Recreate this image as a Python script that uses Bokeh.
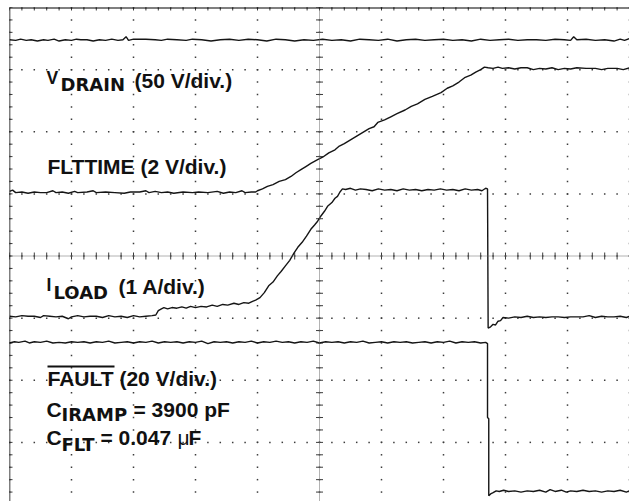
import numpy as np
from bokeh.plotting import figure
from bokeh.models import Range1d, Span, Label
from bokeh.embed import file_html
from bokeh.resources import INLINE

# ---------------- data (time in divisions, amplitude in divisions) ----------------
vdrain = [
    (0.00, 7.48), (0.10, 7.47), (0.18, 7.49), (0.27, 7.47), (0.35, 7.48), (0.45, 7.46), (0.55, 7.48),
    (0.62, 7.47), (0.72, 7.49), (0.80, 7.46), (0.90, 7.48), (1.00, 7.47), (1.08, 7.49), (1.15, 7.48),
    (1.25, 7.48), (1.35, 7.46), (1.45, 7.48), (1.55, 7.47), (1.65, 7.49), (1.75, 7.47), (1.83, 7.48),
    (1.88, 7.53), (1.92, 7.47), (2.00, 7.49), (2.20, 7.49), (2.35, 7.48), (2.45, 7.47), (2.55, 7.49),
    (2.70, 7.48), (2.85, 7.47), (2.95, 7.49), (3.10, 7.48), (3.25, 7.46), (3.40, 7.48), (3.55, 7.49),
    (3.70, 7.47), (3.85, 7.49), (4.00, 7.48), (4.15, 7.46), (4.30, 7.49), (4.45, 7.48), (4.60, 7.46),
    (4.75, 7.48), (4.90, 7.47), (5.05, 7.49), (5.20, 7.47), (5.35, 7.48), (5.50, 7.46), (5.65, 7.49),
    (5.80, 7.48), (5.95, 7.47), (6.10, 7.49), (6.25, 7.46), (6.40, 7.48), (6.55, 7.49), (6.70, 7.47),
    (6.85, 7.48), (7.00, 7.49), (7.15, 7.47), (7.30, 7.48), (7.45, 7.46), (7.60, 7.49), (7.75, 7.47),
    (7.90, 7.48), (8.05, 7.49), (8.20, 7.47), (8.35, 7.48), (8.50, 7.48), (8.65, 7.47), (8.80, 7.49),
    (8.95, 7.48), (9.05, 7.47), (9.10, 7.53), (9.15, 7.48), (9.30, 7.49), (9.45, 7.47), (9.60, 7.48),
    (9.75, 7.46), (9.85, 7.49), (9.92, 7.47), (10.00, 7.50),
]

flttime = [
    (0.00, 5.04), (0.05, 5.06), (0.10, 5.02), (0.20, 5.03), (0.30, 5.01), (0.40, 5.03), (0.50, 5.02),
    (0.60, 5.02), (0.70, 5.05), (0.75, 5.02), (0.85, 5.03), (0.95, 5.01), (1.05, 5.04), (1.10, 5.02),
    (1.25, 5.03), (1.35, 5.05), (1.40, 5.02), (1.55, 5.03), (1.70, 5.02), (1.85, 5.01), (1.95, 5.03),
    (2.10, 5.03), (2.20, 5.05), (2.25, 5.02), (2.35, 5.04), (2.45, 5.02), (2.55, 5.03), (2.65, 5.01),
    (2.80, 5.03), (2.95, 5.02), (3.05, 5.03), (3.20, 5.02), (3.35, 5.04), (3.45, 5.01), (3.55, 5.03),
    (3.65, 5.02), (3.75, 5.05), (3.80, 5.02), (3.90, 5.03), (3.97, 5.03), (4.00, 5.05), (4.08, 5.08),
    (4.16, 5.12), (4.25, 5.15), (4.35, 5.20), (4.45, 5.23), (4.54, 5.28), (4.62, 5.34), (4.70, 5.39),
    (4.78, 5.44), (4.86, 5.49), (4.97, 5.55), (5.05, 5.59), (5.15, 5.66), (5.25, 5.71), (5.32, 5.77),
    (5.40, 5.81), (5.50, 5.87), (5.60, 5.93), (5.70, 5.99), (5.80, 6.05), (5.88, 6.08), (5.94, 6.15),
    (6.05, 6.19), (6.15, 6.24), (6.25, 6.29), (6.38, 6.35), (6.48, 6.41), (6.58, 6.45), (6.70, 6.52),
    (6.82, 6.57), (6.96, 6.63), (7.06, 6.70), (7.15, 6.74), (7.25, 6.80), (7.34, 6.87), (7.44, 6.91),
    (7.52, 6.96), (7.60, 7.00), (7.66, 7.04), (7.72, 7.03), (7.80, 7.02), (7.88, 7.04), (7.95, 7.02),
    (8.05, 7.03), (8.15, 7.01), (8.25, 7.03), (8.35, 7.03), (8.45, 7.00), (8.55, 7.02), (8.65, 7.01),
    (8.75, 7.03), (8.85, 7.00), (8.95, 7.02), (9.05, 7.01), (9.15, 7.03), (9.30, 7.02), (9.45, 7.02),
    (9.55, 7.00), (9.65, 7.02), (9.80, 7.02), (9.90, 7.00), (10.00, 7.03),
]

iload = [
    (0.00, 3.03), (0.10, 3.02), (0.20, 3.04), (0.30, 3.03), (0.40, 3.03), (0.50, 3.01), (0.55, 3.04),
    (0.65, 3.03), (0.75, 3.02), (0.85, 3.03), (0.95, 2.99), (1.00, 3.02), (1.10, 3.04), (1.20, 3.02),
    (1.30, 3.03), (1.40, 3.03), (1.50, 3.01), (1.60, 3.04), (1.70, 3.02), (1.80, 3.03), (1.90, 3.01),
    (2.00, 3.04), (2.10, 3.02), (2.20, 3.03), (2.30, 3.04), (2.36, 3.05), (2.40, 3.12), (2.45, 3.15),
    (2.49, 3.17), (2.55, 3.15), (2.62, 3.17), (2.70, 3.16), (2.78, 3.18), (2.85, 3.16), (2.92, 3.19),
    (3.00, 3.17), (3.09, 3.19), (3.18, 3.18), (3.27, 3.21), (3.35, 3.19), (3.44, 3.22), (3.52, 3.21),
    (3.62, 3.24), (3.70, 3.22), (3.78, 3.25), (3.86, 3.24), (3.92, 3.27), (3.97, 3.29), (4.04, 3.33),
    (4.11, 3.41), (4.18, 3.52), (4.25, 3.58), (4.32, 3.68), (4.38, 3.75), (4.45, 3.84), (4.52, 3.93),
    (4.59, 4.05), (4.65, 4.14), (4.72, 4.22), (4.79, 4.32), (4.86, 4.43), (4.92, 4.50), (4.97, 4.56),
    (5.02, 4.64), (5.08, 4.72), (5.13, 4.80), (5.20, 4.86), (5.25, 4.93), (5.29, 4.96), (5.33, 5.03),
    (5.37, 5.08), (5.42, 5.07), (5.50, 5.09), (5.58, 5.06), (5.66, 5.08), (5.75, 5.07), (5.85, 5.05),
    (5.95, 5.08), (6.05, 5.06), (6.15, 5.07), (6.25, 5.05), (6.35, 5.08), (6.45, 5.06), (6.55, 5.07),
    (6.65, 5.05), (6.75, 5.07), (6.85, 5.06), (6.95, 5.08), (7.05, 5.06), (7.15, 5.07), (7.25, 5.05),
    (7.35, 5.08), (7.45, 5.06), (7.55, 5.07), (7.62, 5.05), (7.68, 5.09), (7.71, 5.08), (7.72, 2.84),
    (7.76, 2.86), (7.80, 2.90), (7.84, 2.89), (7.88, 2.95), (7.92, 2.96), (7.96, 3.01), (8.05, 3.00),
    (8.15, 3.02), (8.25, 3.01), (8.35, 3.03), (8.45, 3.01), (8.55, 3.02), (8.65, 3.01), (8.75, 3.02),
    (8.85, 3.02), (8.95, 3.01), (9.05, 3.02), (9.15, 3.02), (9.25, 3.02), (9.35, 3.04), (9.45, 3.01),
    (9.55, 3.03), (9.65, 3.02), (9.75, 3.02), (9.85, 3.03), (9.95, 3.01), (10.00, 3.03),
]

fault = [
    (0.00, 2.60), (0.08, 2.62), (0.15, 2.61), (0.25, 2.63), (0.32, 2.60), (0.40, 2.62), (0.50, 2.61),
    (0.60, 2.63), (0.70, 2.60), (0.80, 2.61), (0.90, 2.60), (1.00, 2.62), (1.10, 2.61), (1.20, 2.62),
    (1.30, 2.60), (1.40, 2.62), (1.50, 2.61), (1.60, 2.63), (1.70, 2.60), (1.80, 2.61), (1.90, 2.62),
    (2.00, 2.60), (2.10, 2.62), (2.20, 2.61), (2.30, 2.63), (2.40, 2.60), (2.50, 2.62), (2.60, 2.61),
    (2.70, 2.62), (2.80, 2.60), (2.90, 2.62), (3.00, 2.61), (3.10, 2.63), (3.20, 2.59), (3.30, 2.62),
    (3.40, 2.61), (3.50, 2.62), (3.60, 2.60), (3.70, 2.62), (3.80, 2.61), (3.90, 2.63), (4.00, 2.60),
    (4.10, 2.62), (4.20, 2.61), (4.30, 2.63), (4.40, 2.61), (4.50, 2.62), (4.60, 2.60), (4.70, 2.62),
    (4.80, 2.61), (4.90, 2.63), (5.00, 2.60), (5.10, 2.62), (5.20, 2.61), (5.30, 2.62), (5.40, 2.60),
    (5.50, 2.62), (5.60, 2.61), (5.70, 2.63), (5.80, 2.60), (5.90, 2.61), (6.00, 2.62), (6.10, 2.60),
    (6.20, 2.62), (6.30, 2.61), (6.40, 2.62), (6.50, 2.60), (6.60, 2.61), (6.70, 2.62), (6.80, 2.60),
    (6.90, 2.62), (7.00, 2.61), (7.10, 2.63), (7.20, 2.60), (7.30, 2.62), (7.40, 2.61), (7.50, 2.62),
    (7.60, 2.60), (7.68, 2.61), (7.71, 2.59), (7.71, 1.40), (7.73, 1.38), (7.73, 0.14), (7.76, 0.17),
    (7.80, 0.19), (7.85, 0.22), (7.90, 0.21), (7.97, 0.23), (8.05, 0.21), (8.15, 0.22), (8.25, 0.20),
    (8.35, 0.22), (8.45, 0.21), (8.55, 0.23), (8.65, 0.20), (8.72, 0.24), (8.80, 0.21), (8.90, 0.23),
    (8.98, 0.20), (9.05, 0.22), (9.15, 0.21), (9.25, 0.23), (9.35, 0.21), (9.45, 0.22), (9.55, 0.20),
    (9.65, 0.22), (9.75, 0.21), (9.85, 0.23), (9.95, 0.20), (10.00, 0.22),
]

x_divisions = list(range(0, 11))
y_divisions = list(range(0, 9))
MINOR_PER_DIV = 5

# ---------------- figure ----------------
W, H = 629, 501
LEFT, TOP = 9, 7
FRAME_W, FRAME_H = W - LEFT, H - TOP
PX_PER_XDIV = FRAME_W / 10.0
PX_PER_YDIV = 62.125
y_bottom = 8 - FRAME_H / PX_PER_YDIV

p = figure(width=W, height=H, output_backend="svg", toolbar_location=None,
           x_range=Range1d(0, 10), y_range=Range1d(y_bottom, 8),
           x_axis_location=None, y_axis_location=None,
           min_border=0, min_border_left=LEFT, min_border_top=TOP,
           background_fill_color="white", border_fill_color="white")
p.outline_line_color = None
for g in p.grid:
    g.visible = False

GRID_COL = "#3c3c3c"

# dotted graticule: one dot per minor division along every major line
xm = np.arange(0, 10.001, 1.0 / MINOR_PER_DIV)
ym = np.arange(0, 8.001, 1.0 / MINOR_PER_DIV)
gx, gy = [], []
for yd in y_divisions:
    gx.extend(xm); gy.extend([yd] * len(xm))
for xd in x_divisions:
    gx.extend([xd] * len(ym)); gy.extend(ym)
p.rect(x=gx, y=gy, width=1.5, height=1.5, width_units="screen", height_units="screen",
       fill_color=GRID_COL, line_color=None)

# centre cross-hair, densely dotted
p.add_layout(Span(location=5, dimension="height", line_color="#666666", line_width=1, line_dash="1 1"))
p.add_layout(Span(location=4, dimension="width", line_color="#666666", line_width=1, line_dash="1 1"))

# minor ticks on centre lines and frame edges
hx = 3.5 / PX_PER_XDIV
hy = 3.5 / PX_PER_YDIV
p.segment(x0=xm, y0=4 - hy, x1=xm, y1=4 + hy, line_color=GRID_COL, line_width=1)
p.segment(x0=5 - hx, y0=ym, x1=5 + hx, y1=ym, line_color=GRID_COL, line_width=1)
ex = 3 / PX_PER_XDIV
ey = 3 / PX_PER_YDIV
p.segment(x0=xm, y0=8, x1=xm, y1=8 - ey, line_color=GRID_COL, line_width=1)
p.segment(x0=0, y0=ym, x1=ex, y1=ym, line_color=GRID_COL, line_width=1)

# frame border (top and left visible)
p.add_layout(Span(location=8, dimension="width", line_color="black", line_width=2))
p.add_layout(Span(location=0, dimension="height", line_color="black", line_width=1.5))

# traces
TRACE_COL = "#151515"
for tr in (vdrain, flttime, iload, fault):
    p.line([a for a, b in tr], [b for a, b in tr], line_color=TRACE_COL, line_width=1.4)

# ---------------- labels ----------------
def px_x(px):
    return (px - LEFT) / PX_PER_XDIV

def px_y(py):
    return (TOP + 8 * PX_PER_YDIV - py) / PX_PER_YDIV

MAIN = "Liberation Sans"
SUB = "DejaVu Sans"
TXT = "#111111"
MAIN_SHIFT = 7   # compensation for how the label baseline is laid out
SUB_SHIFT = 6

def lab(text, px, py, size, font=MAIN, style="bold"):
    shift = SUB_SHIFT if font == SUB else MAIN_SHIFT
    p.add_layout(Label(x=px_x(px), y=px_y(py - shift), text=text, text_font=font,
                       text_font_style=style, text_font_size=f"{size}px",
                       text_color=TXT, text_baseline="alphabetic", text_align="left"))

lab("V", 46, 84, 17.5)
lab("DRAIN", 60, 89.5, 18, SUB)
lab("(50 V/div.)", 134, 87, 21)

lab("FLTTIME (2 V/div.)", 47, 173, 21)

lab("I", 46, 291, 17.5)
lab("LOAD", 53, 298, 18, SUB)
lab("(1 A/div.)", 118, 293, 21)

lab("FAULT (20 V/div.)", 47, 385, 21)
p.segment(x0=[px_x(47)], y0=[px_y(366)], x1=[px_x(114)], y1=[px_y(366)],
          line_color=TXT, line_width=2.2)

lab("C", 46, 416, 21)
lab("IRAMP", 61, 420, 18, SUB)
lab("= 3900 pF", 133, 416, 21)

lab("C", 46, 444, 21)
lab("FLT", 61, 450, 18, SUB)
lab("= 0.047", 100, 444, 21)
lab("\u03bc", 177, 444, 21, MAIN, "normal")
lab("F", 188, 444, 21)

open("out.html", "w").write(file_html(p, INLINE))
